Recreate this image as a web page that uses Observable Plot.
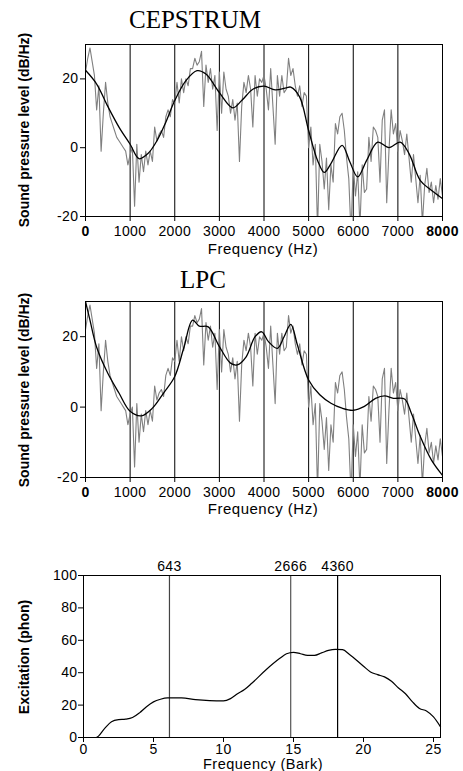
<!DOCTYPE html>
<html>
<head>
<meta charset="utf-8">
<script src="https://cdn.jsdelivr.net/npm/d3@7"></script>
<script src="https://cdn.jsdelivr.net/npm/@observablehq/plot@0.6"></script>
<style>
  html, body { margin: 0; padding: 0; background: white; }
  #root { position: relative; width: 463px; height: 771px; overflow: hidden; background: white; }
  .panel { position: absolute; left: 0; }
  .title { position: absolute; font-family: "Liberation Serif", "Times New Roman", serif; font-size: 25px; line-height: 1; color: black; white-space: nowrap; transform: translate(-50%, -50%); }
  .xlab { position: absolute; font-family: "Liberation Sans", Arial, sans-serif; font-size: 15px; line-height: 1; color: black; white-space: nowrap; transform: translate(-50%, -50%); letter-spacing: 0.5px; }
  .xlab.small { font-size: 14.5px; }
  .ylab { position: absolute; font-family: "Liberation Sans Narrow", "Liberation Sans", Arial, sans-serif; font-weight: bold; font-size: 14px; line-height: 1; color: black; white-space: nowrap; transform: translate(-50%, -50%) rotate(-90deg); }
  #root svg text { letter-spacing: 0.4px; }
  .edge g[aria-label="x-axis tick label"] text:first-child,
  .edge g[aria-label="x-axis tick label"] text:last-child { font-weight: bold; }
</style>
</head>
<body>
<div id="root"></div>
<script>
// ---- data ----
const spectrumStepHz = 50; // spectrum sampled every 50 Hz from 0 to 8000 Hz
const spectrumDb = [
  22, 26, 29, 25, 21, 11, 18, -1, 10, 19, 13, 9, 7, 5, 3, 2, 1, 0, -1, -5,
  -2, 0, -17, 1, -10, -2, -7, -1, -5, -1, -4, 6, 2, 4, 5, 3, 9, 11, 9, 14,
  13, 19, 13, 20, 16, 20, 18, 23, 23, 26, 24, 25, 28, 12, 24, 19, 23, 17, 21, 5,
  22, 10, 22, 17, 15, 10, 14, 8, 13, -4, 12, 19, 16, 21, 17, 6, 21, 15, 20, 19,
  21, 17, 11, 23, 12, 1, 21, 15, 21, 16, 17, 26, 21, 23, 18, 15, 18, 12, 16, 15,
  0, 6, -5, 1, -24, 1, -4, -12, -3, -18, -5, -10, 7, 4, 9, 10, 5, -3, -9, -25,
  -5, -14, -7, -23, -5, -13, -12, 3, -4, 6, 5, 3, -10, 8, 11, -16, -1, 11, 4, 7,
  -1, 5, 2, -2, 4, -3, -10, -2, -9, -16, -8, -22, -11, -6, -13, -10, -16, -11, -15, -9,
  -14
];

const cepHz = [0,250,500,750,1000,1200,1400,1600,1800,2000,2250,2500,2700,3000,3300,3500,3750,4000,4250,4500,4600,4800,5000,5200,5350,5500,5750,5920,6100,6300,6550,6800,7050,7250,7500,7750,8000];
const cepDb = [22.5,18.5,12,6,1,-3.2,-1.7,2,7.4,13.7,19.5,22.4,21.4,16,11.6,13.7,17,17.9,16.8,17.4,17.6,14.7,5,-3.7,-7.2,-4.6,0.7,-4,-8.5,-3.7,1.6,0,1.6,-1.7,-9.5,-12.4,-14.8];

const lpcHz = [0,100,250,500,750,1000,1250,1500,1750,2000,2200,2400,2550,2750,3000,3250,3400,3600,3800,3950,4100,4300,4450,4600,4750,5000,5250,5500,5750,6000,6250,6500,6700,6900,7150,7300,7500,7750,8000];
const lpcDb = [30,24.7,17,9.6,4,-1.2,-2.5,-0.3,4,8.7,16.7,24.7,23,22.8,17.2,12.5,12,14.3,20,21.4,18.6,16.7,20,23.5,17.6,7.7,3.5,1.1,-0.3,-0.9,0.2,2.5,3.2,2.5,2.3,-1.7,-8.3,-15,-19.4];

const barkX = [0,0.9,1.5,2,2.5,3,3.5,4,4.5,5,5.5,6,7,8,9,10,10.5,11,11.5,12,13,14,14.5,15,15.5,16,16.5,17,17.5,18,18.5,19,20,20.5,21,21.5,22,22.5,23,23.5,24,24.5,25,25.5];
const barkPhon = [0,0,5.5,9.7,11,11.3,12.3,15.2,19,22,23.6,24.4,24.4,23.4,22.8,22.6,24,27,29.6,33.3,41.5,48.7,51.7,52.6,51.7,50.7,50.7,52.2,53.8,54.4,54.2,51.3,44,40.5,38.8,37.4,34.7,30.6,27,22,17.9,16.4,12.7,6.6];

const formantHzLabels = ["643", "2666", "4360"];
const formantBark = [6.14, 14.8, 18.15];
const formantStroke = ["#444", "#555", "#000"];

const hzTicks = [0,1000,2000,3000,4000,5000,6000,7000,8000];
const hzGrid = [1000,2000,3000,4000,5000,6000,7000];
const dbTicks = [-20, 0, 20];
const barkTicks = [0,5,10,15,20,25];
const phonTicks = [0,20,40,60,80,100];

const titles = ["CEPSTRUM", "LPC"];
const xLabels = ["Frequency (Hz)", "Frequency (Hz)", "Frequency (Bark)"];
const yLabels = ["Sound pressure level (dB/Hz)", "Sound pressure level (dB/Hz)", "Excitation (phon)"];

// ---- build tables ----
const spectrum = spectrumDb.map((v, i) => ({hz: i * spectrumStepHz, db: v}));
const cep = cepHz.map((h, i) => ({hz: h, db: cepDb[i]}));
const lpc = lpcHz.map((h, i) => ({hz: h, db: lpcDb[i]}));
const exc = barkX.map((b, i) => ({bark: b, phon: barkPhon[i]}));
const formants = formantBark.map((b, i) => ({bark: b, label: formantHzLabels[i], stroke: formantStroke[i]}));

const font = "'Liberation Sans', Arial, sans-serif";
const root = document.getElementById("root");

function place(el, top, cls) {
  const d = document.createElement("div");
  d.className = cls;
  d.style.top = top + "px";
  d.appendChild(el);
  root.appendChild(d);
}
function text(cls, str, x, y) {
  const d = document.createElement("div");
  d.className = cls;
  d.textContent = str;
  d.style.left = x + "px";
  d.style.top = y + "px";
  root.appendChild(d);
}

function spectrumPlot(smooth, mt, mb) {
  return Plot.plot({
    width: 463, height: 230,
    marginLeft: 85, marginRight: 21, marginTop: mt, marginBottom: mb,
    x: {domain: [0, 8000]},
    y: {domain: [-20, 30]},
    style: {fontFamily: font, fontSize: "14px", color: "black", background: "white", overflow: "visible"},
    marks: [
      Plot.ruleX(hzGrid, {stroke: "black", strokeWidth: 1}),
      Plot.line(spectrum, {x: "hz", y: "db", stroke: "#808080", strokeWidth: 1.1, clip: true}),
      Plot.line(smooth, {x: "hz", y: "db", curve: "catmull-rom", stroke: "black", strokeWidth: 1.3, clip: true}),
      Plot.frame({stroke: "black", strokeWidth: 1}),
      Plot.axisX({ticks: hzTicks, tickSize: 5, tickPadding: 5, label: null, tickFormat: d => String(d)}),
      Plot.axisY({ticks: dbTicks, tickSize: 5, tickPadding: 2, label: null, tickFormat: d => String(d)})
    ]
  });
}

place(spectrumPlot(cep, 14, 44), 30, "panel edge");
place(spectrumPlot(lpc, 11, 43), 290, "panel edge");

const bark = Plot.plot({
  width: 463, height: 231,
  marginLeft: 83, marginRight: 23, marginTop: 35, marginBottom: 34,
  x: {domain: [0, 25.5]},
  y: {domain: [0, 100]},
  style: {fontFamily: font, fontSize: "14px", color: "black", background: "white", overflow: "visible"},
  marks: [
    Plot.ruleX(formants, {x: "bark", stroke: "stroke", strokeWidth: 1.2}),
    Plot.text(formants, {x: "bark", text: "label", frameAnchor: "top", dy: -14, fontSize: 14, fill: "black"}),
    Plot.line(exc, {x: "bark", y: "phon", curve: "monotone-x", stroke: "black", strokeWidth: 1.2}),
    Plot.frame({stroke: "black", strokeWidth: 1}),
    Plot.axisX({ticks: barkTicks, tickSize: 5, tickPadding: 2, label: null, tickFormat: d => String(d)}),
    Plot.axisY({ticks: phonTicks, tickSize: 5, tickPadding: 1, label: null, tickFormat: d => String(d)})
  ]
});
place(bark, 540, "panel");

// titles and axis labels
text("title", titles[0], 195, 19);
text("title", titles[1], 203, 279);
text("xlab", xLabels[0], 263, 248);
text("xlab", xLabels[1], 263, 508);
text("xlab small", xLabels[2], 263, 763.5);
text("ylab", yLabels[0], 24, 130);
text("ylab", yLabels[1], 24, 390);
text("ylab", yLabels[2], 24, 657);
</script>
</body>
</html>
